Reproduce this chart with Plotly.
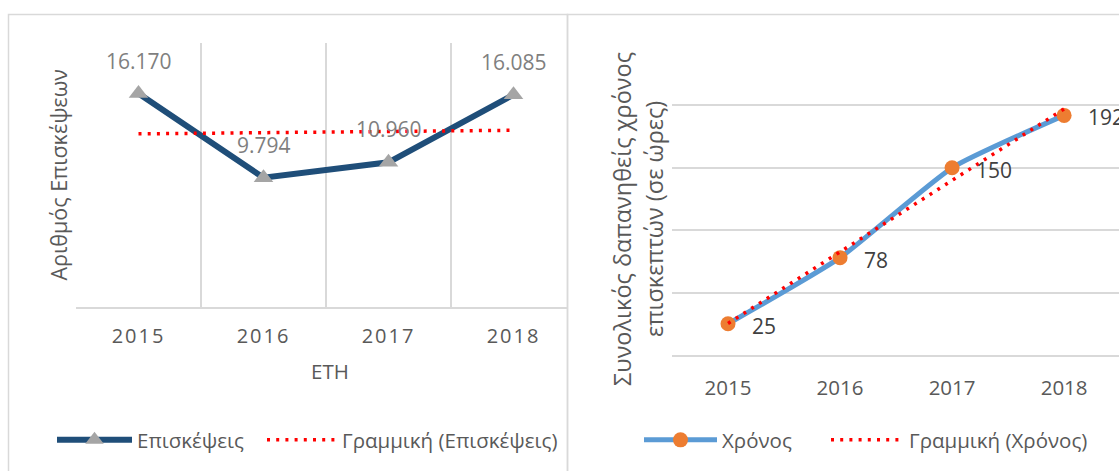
import numpy as np
import plotly.graph_objects as go

W, H = 1119, 471

years = ["2015", "2016", "2017", "2018"]
visits = [16170, 9794, 10960, 16085]   # Επισκέψεις
hours = [25, 78, 150, 192]             # Χρόνος (σε ώρες)

FONT = "Open Sans"
GRID = "#D9D9D9"
TXT = "#595959"


def fx(p):
    return p / W


def fy(p):
    return 1 - p / H


def linear_trend(vals):
    # least-squares straight line over the category index
    idx = np.arange(len(vals))
    k, b = np.polyfit(idx, vals, 1)
    return k * idx + b


def gr_num(v):
    return f"{v:,}".replace(",", ".")


DOTS = "3px,6.2px"

fig = go.Figure()

# left chart: visits
fig.add_trace(go.Scatter(
    x=years, y=visits, mode="lines+markers", name="Επισκέψεις",
    line=dict(color="#1F4E79", width=6),
    marker=dict(symbol="triangle-up", size=17, color="#A5A5A5"),
    xaxis="x", yaxis="y", legend="legend", showlegend=True))
fig.add_trace(go.Scatter(
    x=years, y=linear_trend(visits), mode="lines", name="Γραμμική (Επισκέψεις)",
    line=dict(color="#FF0000", width=3.5, dash=DOTS),
    xaxis="x", yaxis="y", legend="legend2", showlegend=True))

# right chart: hours
fig.add_trace(go.Scatter(
    x=years, y=hours, mode="lines+markers", name="Χρόνος",
    line=dict(color="#5B9BD5", width=5, shape="spline", smoothing=0.5),
    marker=dict(symbol="circle", size=15, color="#ED7D31"),
    xaxis="x2", yaxis="y2", legend="legend3", showlegend=True))
fig.add_trace(go.Scatter(
    x=years, y=linear_trend(hours), mode="lines", name="Γραμμική (Χρόνος)",
    line=dict(color="#FF0000", width=3.5, dash=DOTS),
    xaxis="x2", yaxis="y2", legend="legend4", showlegend=True))

annotations = []
for i, v in enumerate(visits):
    annotations.append(dict(
        x=i, y=v, xref="x", yref="y", text=gr_num(v), showarrow=False,
        yshift=33, font=dict(family=FONT, size=21, color="#7F7F7F")))
for i, v in enumerate(hours):
    annotations.append(dict(
        x=i, y=v, xref="x2", yref="y2", text=str(v), showarrow=False,
        xanchor="left", xshift=22, yshift=-2,
        font=dict(family=FONT, size=21, color="#404040")))


def title(x, y, text, size, angle=0):
    return dict(x=fx(x), y=fy(y), xref="paper", yref="paper", text=text,
                textangle=angle, showarrow=False, xanchor="center",
                yanchor="middle", font=dict(family=FONT, size=size, color=TXT))


annotations += [
    title(58, 175.5, "Αριθμός Επισκέψεων", 21.5, -90),
    title(330, 371, "ΕΤΗ", 20.5),
    title(622, 219, "Συνολικός δαπανηθείς χρόνος", 23.5, -90),
    title(654, 219, "επισκεπτών (σε ώρες)", 23.5, -90),
]

shapes = [
    dict(type="rect", xref="paper", yref="paper",
         x0=fx(8.5), x1=fx(567.5), y0=fy(490), y1=fy(14.5),
         line=dict(color=GRID, width=1.5), fillcolor="rgba(0,0,0,0)", layer="below"),
    dict(type="rect", xref="paper", yref="paper",
         x0=fx(567.5), x1=fx(1140), y0=fy(490), y1=fy(14.5),
         line=dict(color=GRID, width=1.5), fillcolor="rgba(0,0,0,0)", layer="below"),
]


def legend_box(x, itemwidth):
    return dict(orientation="h", x=fx(x), y=fy(440), xanchor="left",
                yanchor="middle", bgcolor="rgba(0,0,0,0)", borderwidth=0,
                itemwidth=itemwidth, visible=True,
                font=dict(family=FONT, size=20.5, color=TXT))


fig.update_layout(
    width=W, height=H,
    margin=dict(l=0, r=0, t=0, b=0),
    showlegend=True,
    paper_bgcolor="white", plot_bgcolor="rgba(0,0,0,0)",
    font=dict(family=FONT, color=TXT),
    xaxis=dict(domain=[fx(76), fx(567)], type="category", range=[-0.5, 3.428],
               tickson="boundaries", showgrid=True, gridcolor=GRID, gridwidth=1.5,
               showline=True, linecolor=GRID, linewidth=1.5, ticks="",
               tickfont=dict(family=FONT, size=20, color=TXT),
               ticklabelstandoff=10, anchor="y", fixedrange=True),
    yaxis=dict(domain=[fy(307), fy(43)], range=[0, 20000], showgrid=False,
               showticklabels=False, zeroline=False, showline=False,
               anchor="x", fixedrange=True),
    xaxis2=dict(domain=[fx(672), 1.0], type="category", range=[-0.5, 3.49],
                showgrid=False, showline=True, linecolor=GRID, linewidth=1.5,
                ticks="", tickfont=dict(family=FONT, size=20.5, color=TXT),
                ticklabelstandoff=14, anchor="y2", fixedrange=True),
    yaxis2=dict(domain=[fy(355), fy(43)], range=[0, 250], dtick=50,
                showgrid=True, gridcolor=GRID, gridwidth=1.5,
                showticklabels=False, zeroline=False, showline=False,
                anchor="x2", fixedrange=True),
    legend=legend_box(52, 75),
    legend2=legend_box(262, 70),
    legend3=legend_box(639, 73),
    legend4=legend_box(826, 73),
    annotations=annotations,
    shapes=shapes,
)

# spaced-out year labels on the left chart
spacing_css = (
    "var s=document.createElement('style');"
    "s.textContent='.subplot.xy .xaxislayer-above .xtick text{letter-spacing:2px}';"
    "document.head.appendChild(s);"
)
fig.write_html("out.html", post_script=spacing_css)
